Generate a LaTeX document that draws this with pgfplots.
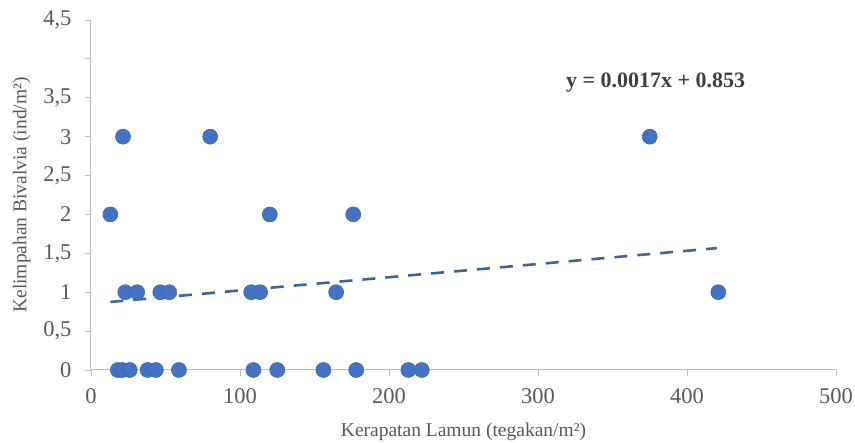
\documentclass[border=0pt]{standalone}
\usepackage{fontspec}
\setmainfont{Liberation Serif}
\usepackage{pgfplots}
\pgfplotsset{compat=1.18}
\definecolor{ptblue}{HTML}{4472C4}
\definecolor{ptedge}{HTML}{3E6AAE}
\definecolor{trend}{HTML}{3D6697}
\definecolor{ticktxt}{HTML}{595959}
\definecolor{axgrey}{HTML}{BFBFBF}
\begin{document}
\begin{tikzpicture}
\begin{axis}[
  scale only axis,
  width=745pt, height=350pt,
  xmin=0, xmax=500, ymin=0, ymax=4.5,
  axis x line*=bottom, axis y line*=left,
  axis line style={axgrey, line width=1pt, -},
  tick style={axgrey, line width=0.8pt},
  tick align=outside,
  major tick length=6pt,
  xtick={0,100,200,300,400,500},
  ytick={0,0.5,1,1.5,2,2.5,3,3.5,4,4.5},
  yticklabels={0,{0,5},1,{1,5},2,{2,5},3,{3,5},,{4,5}},
  /pgf/number format/assume math mode=true,
  ticklabel style={font=\fontsize{22.5}{26}\selectfont, text=ticktxt},
  xticklabel style={yshift=-9pt},
  yticklabel style={xshift=-10pt},
  xlabel={Kerapatan Lamun (tegakan/m²)},
  ylabel={Kelimpahan Bivalvia (ind/m²)},
  label style={font=\fontsize{19.5}{22}\selectfont, text=ticktxt},
  xlabel style={yshift=-12pt},
  ylabel style={yshift=6pt},
  clip=false,
]
\addplot[only marks, mark=*, mark size=7.5pt, mark options={fill=ptblue, draw=ptedge, line width=0.6pt}] coordinates {
 (18,0) (21,0) (26,0) (38,0) (43.5,0) (59,0) (109,0) (125,0) (156,0) (178,0) (213,0) (222,0)
 (23,1) (31,1) (46.5,1) (52.5,1) (107.5,1) (113.5,1) (164.5,1) (421,1)
 (13,2) (120,2) (176,2)
 (21.5,3) (80,3) (375,3)
};
\addplot[trend, line width=2.6pt, dash pattern=on 13pt off 10pt] coordinates {(13,0.875) (420,1.567)};
\node[font=\fontsize{22}{25}\selectfont\bfseries, text=black!75] at (axis cs:379,3.70) {y = 0.0017x + 0.853};
\end{axis}
\pgfresetboundingbox
\path ([shift={(-91pt,-73pt)}]current axis.south west) rectangle ([shift={(19pt,20pt)}]current axis.north east);
\end{tikzpicture}
\end{document}
